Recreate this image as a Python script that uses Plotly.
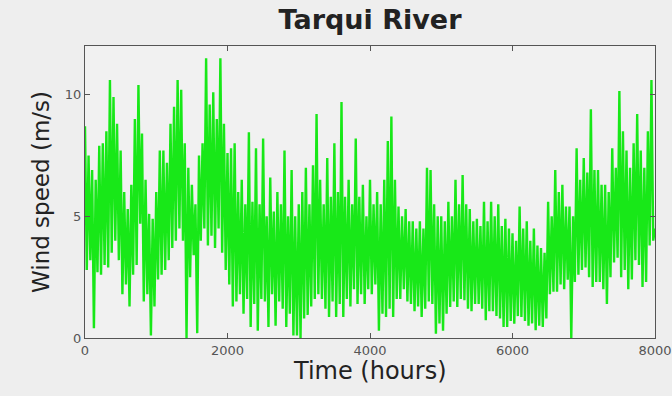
import plotly.graph_objects as go

# wind speed, one value every 25 hours (0 .. 8000)
step_hours = 25
wind_speed = [
    8.7, 2.8, 7.5, 3.2,   6.9, 0.4, 6.5, 2.7,   7.9, 2.6, 8.0, 3.0,   8.5, 2.9, 10.6, 3.5,
    9.9, 4.0, 8.8, 3.2,   7.7, 1.8, 6.0, 2.2,   5.3, 1.3, 6.3, 2.6,   9.0, 3.0, 10.4, 4.7,
    8.4, 1.5, 6.5, 1.8,   5.1, 0.1, 4.9, 1.3,   6.0, 2.4, 7.7, 2.6,   7.7, 2.8, 7.2, 3.2,
    8.8, 3.7, 9.5, 4.0,   10.6, 4.5, 10.2, 4.0, 8.0, 0.0, 7.0, 2.5,   6.3, 3.4, 5.5, 0.2,
    7.5, 4.0, 8.0, 4.5,   11.5, 3.8, 9.6, 4.2,  10.1, 3.7, 9.0, 4.5,  11.5, 3.5, 8.8, 2.8,
    7.6, 2.2, 7.8, 1.3,   8.0, 1.5, 6.0, 1.8,   6.5, 1.0, 5.5, 1.6,   8.45, 0.45, 5.6, 1.4,
    7.8, 0.3, 5.5, 1.6,   8.2, 1.5, 5.0, 0.45,  6.6, 1.8, 5.2, 0.5,   6.0, 1.5, 5.5, 1.2,
    7.7, 0.45, 5.0, 1.0,  6.9, 0.1, 5.0, 0.1,   5.5, 0.0, 6.0, 0.8,   7.0, 0.95, 5.5, 1.3,
    7.1, 1.6, 9.2, 1.8,   6.5, 1.6, 5.5, 1.2,   7.4, 0.86, 5.8, 1.5,  8.0, 0.86, 6.0, 1.4,
    9.7, 0.86, 5.8, 1.6,  6.5, 1.3, 5.5, 2.0,   8.2, 1.4, 5.8, 1.8,   6.3, 1.4, 5.0, 2.0,
    6.5, 1.8, 5.5, 2.2,   6.0, 0.3, 5.5, 1.0,   6.5, 0.86, 8.1, 1.2,  9.1, 0.86, 6.5, 1.6,
    5.4, 1.6, 5.0, 2.0,   5.3, 1.5, 4.8, 1.4,   4.8, 1.1, 4.5, 1.3,   4.8, 0.86, 4.5, 1.2,
    7.0, 1.5, 6.9, 1.4,   5.5, 0.18, 5.0, 0.6,  5.0, 0.3, 4.8, 1.0,   5.6, 1.27, 5.0, 1.5,
    6.5, 1.27, 5.5, 1.6,  6.7, 1.55, 5.5, 1.2,  5.3, 1.1, 4.8, 1.4,   4.9, 1.4, 4.6, 1.2,
    5.6, 0.73, 4.8, 1.1,  5.6, 1.1, 5.0, 0.9,   5.5, 0.8, 4.6, 0.45,  4.9, 0.45, 4.5, 0.7,
    4.3, 0.59, 4.0, 0.9,  5.4, 0.86, 4.5, 0.7,  4.8, 0.5, 4.0, 0.6,   4.5, 0.32, 3.8, 0.5,
    3.7, 0.45, 3.5, 0.8,  5.6, 1.8, 5.0, 1.9,   6.9, 1.9, 6.0, 2.2,   6.3, 2.0, 5.4, 2.4,
    5.4, 0.0, 5.0, 2.3,   7.8, 2.6, 6.5, 2.8,   7.4, 2.9, 6.8, 2.5,   9.4, 2.1, 6.9, 2.3,
    6.9, 2.3, 6.3, 2.0,   6.3, 1.4, 6.0, 2.5,   7.8, 3.1, 7.0, 3.3,   10.15, 2.5, 8.5, 2.8,
    7.7, 2.0, 7.0, 2.4,   8.0, 3.2, 9.2, 3.0,   7.7, 2.1, 7.0, 2.3,   8.5, 3.8, 10.6, 4.0,
    4.5,
]
hours = [i * step_hours for i in range(len(wind_speed))]

x_ticks = [0, 2000, 4000, 6000, 8000]
y_ticks = [0, 5, 10]

fig = go.Figure()
fig.add_trace(go.Scatter(x=hours, y=wind_speed, mode="lines",
                         line=dict(color="#18e818", width=2.4)))

axis_style = dict(showline=True, mirror="ticks", linecolor="#555555", linewidth=1,
                  ticks="inside", ticklen=5, tickcolor="#555555", showgrid=False,
                  zeroline=False, automargin=False,
                  tickfont=dict(family="DejaVu Sans", size=13, color="#555555"))

fig.update_layout(
    width=672, height=396,
    margin=dict(l=85, r=17, t=46, b=58),
    paper_bgcolor="#eeeeee", plot_bgcolor="#f1f1f1",
    showlegend=False,
    title=dict(text="<b>Tarqui River</b>", x=0.5, xref="paper", y=0.95, yref="container",
               yanchor="middle", font=dict(family="DejaVu Sans", size=27, color="#222222")),
)
fig.update_xaxes(range=[0, 8000], tickvals=x_ticks, **axis_style)
fig.update_yaxes(range=[0, 12], tickvals=y_ticks,
                 title=dict(text="Wind speed (m/s)", standoff=8,
                            font=dict(family="DejaVu Sans", size=23, color="#222222")),
                 **axis_style)
# x title placed as a note so it sits close under the tick labels as in the original
fig.add_annotation(text="Time (hours)", xref="paper", yref="paper", x=0.5, y=-0.114,
                   yanchor="middle", showarrow=False,
                   font=dict(family="DejaVu Sans", size=24, color="#222222"))

# the page has a default 8px body margin; drop it so the figure fills the window
fig.write_html("out.html", config={"displayModeBar": False},
               post_script="document.body.style.margin='0';")
